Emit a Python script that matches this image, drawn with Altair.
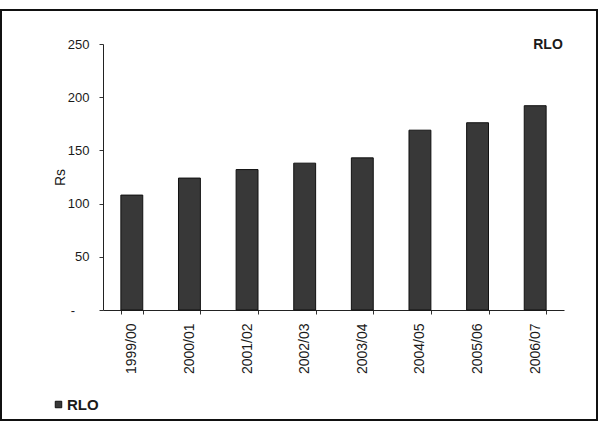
import altair as alt
import pandas as pd

# Annual RLO price series (Rs)
years = ["1999/00", "2000/01", "2001/02", "2002/03", "2003/04", "2004/05", "2005/06", "2006/07"]
rlo = [108, 124, 132, 138, 143, 169, 176, 192]
series_name = "RLO"
y_ticks = [0, 50, 100, 150, 200, 250]

df = pd.DataFrame({"year": years, "value": rlo, "series": [series_name] * len(years)})

bar_color = "#383838"
ink = "#1a1a1a"

bars = alt.Chart(df).mark_bar(stroke="#111111", strokeWidth=1).encode(
    x=alt.X(
        "year:N",
        sort=years,
        title=None,
        scale=alt.Scale(paddingInner=0.62, paddingOuter=0.31),
        axis=alt.Axis(
            labelAngle=270,
            labelFont="Liberation Sans",
            labelFontSize=14,
            labelColor=ink,
            labelPadding=9,
            tickBand="extent",
            tickSize=4,
            tickColor="#333333",
            domainColor="#222222",
            domainWidth=1,
        ),
    ),
    y=alt.Y(
        "value:Q",
        title="Rs",
        scale=alt.Scale(domain=[0, 250], nice=False),
        axis=alt.Axis(
            values=y_ticks,
            grid=False,
            # accounting-style zero: a dash held away from the axis
            labelExpr="datum.value == 0 ? '-\u00a0\u00a0\u00a0\u00a0\u200b' : datum.label",
            labelFont="Liberation Sans",
            labelFontSize=13,
            labelColor=ink,
            labelPadding=10,
            tickSize=4,
            tickColor="#333333",
            domainColor="#222222",
            domainWidth=1,
            titleFont="Liberation Sans",
            titleFontSize=14,
            titleFontWeight="normal",
            titleColor=ink,
            titlePadding=0,
        ),
    ),
    color=alt.Color(
        "series:N",
        scale=alt.Scale(range=[bar_color]),
        legend=alt.Legend(
            title=None,
            orient="none",
            legendX=-52,
            legendY=353,
            symbolType="square",
            symbolSize=42,
            symbolStrokeColor="#111111",
            symbolStrokeWidth=1,
            labelFont="Liberation Sans",
            labelFontSize=15,
            labelFontWeight="bold",
            labelColor=ink,
            labelOffset=1,
        ),
    ),
)

# Series name in the upper right corner of the plot
corner = alt.Chart(pd.DataFrame({"series": [series_name]})).mark_text(
    font="Liberation Sans", fontSize=14, fontWeight="bold", color=ink,
    align="center", baseline="middle",
).encode(text="series:N", x=alt.value(445), y=alt.value(1))

# Outer frame around the whole figure
frame = alt.Chart(pd.DataFrame({"k": [0]})).mark_rect(
    fillOpacity=0, stroke="#111111", strokeWidth=2
).encode(x=alt.value(-102), x2=alt.value(494), y=alt.value(-34), y2=alt.value(376))

chart = alt.layer(frame, bars, corner).properties(
    width=461,
    height=266,
    padding={"left": 103, "top": 44, "right": 37, "bottom": 113},
    autosize=alt.AutoSizeParams(type="none"),
    background="white",
).configure_view(stroke=None)

chart.save("out.html", embed_options={"renderer": "svg", "actions": False})
